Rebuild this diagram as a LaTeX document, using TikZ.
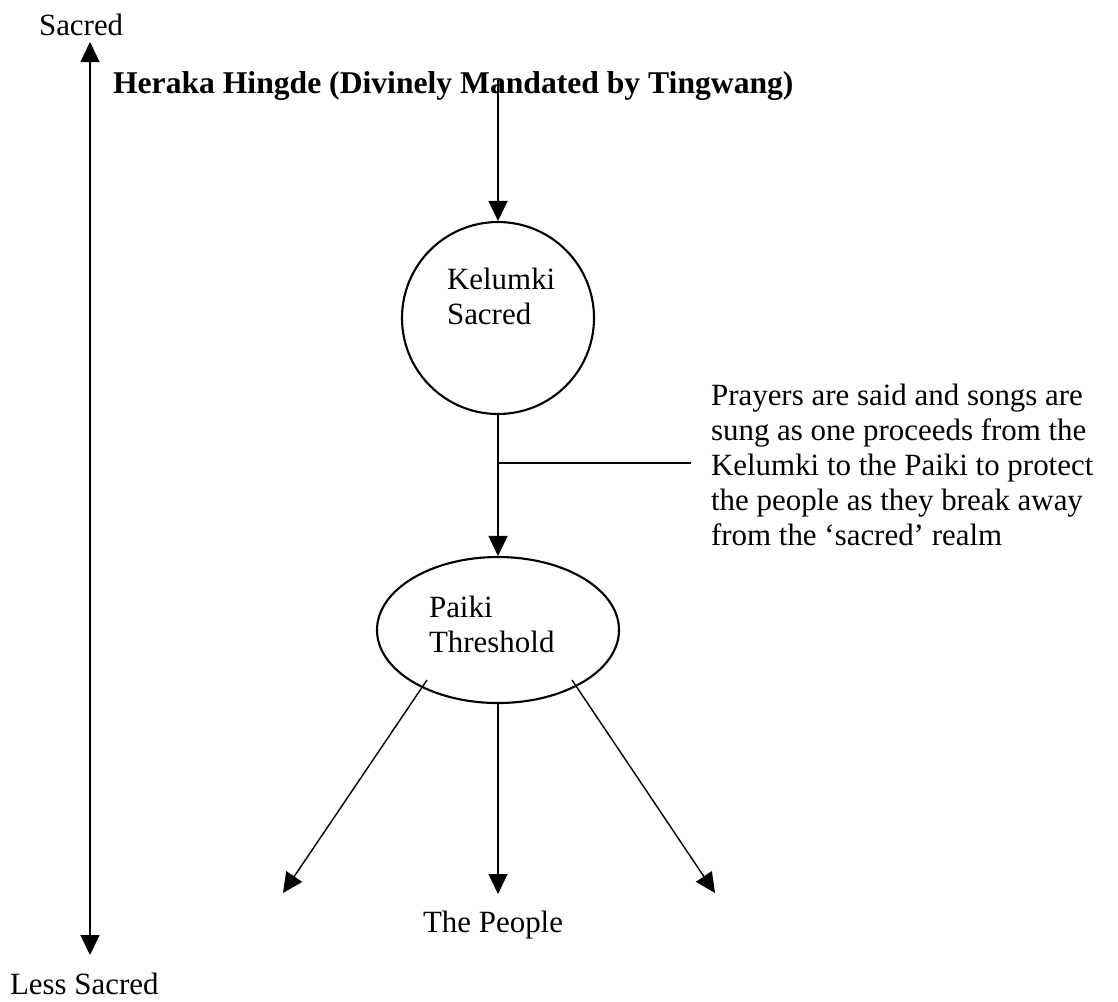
\documentclass[tikz,border=0pt]{standalone}
\usepackage{fontspec}
\setmainfont{Liberation Serif}
\usetikzlibrary{shapes.geometric,arrows.meta}
\pgfdeclarelayer{bg}
\pgfsetlayers{bg,main}
\tikzset{
    every node/.style={inner sep=0mm, font=\fontsize{8.8}{9.96}\selectfont}
}
\tikzset{word/.style={anchor=north west, align=left}}
\tikzset{ring/.style={circle, draw, minimum size=19.2mm}}
\tikzset{oval/.style={ellipse, draw, minimum width=24.2mm, minimum height=14.6mm}}

\begin{document}
\begin{tikzpicture}[line width=0.6pt, >={Triangle[length=2mm, width=1.9mm]}]
    \useasboundingbox (0cm, 0cm) rectangle (11.18cm, -10.01cm);

    \node (sacred) [word] at (0.38cm, -0.13cm) {Sacred};
    \node (less) [word] at (0.09cm, -9.72cm) {Less Sacred};
    \node (heraka) [word, font=\fontsize{9.0}{10}\selectfont\bfseries] at (1.12cm, -0.70cm) {Heraka Hingde (Divinely Mandated by Tingwang)};

    \node (kel) [ring] at (4.98cm, -3.18cm) {};
    \node (kelt) [word] at (4.46cm, -2.67cm) {Kelumki\\Sacred};
    \node (pai) [oval] at (4.98cm, -6.30cm) {};
    \node (pait) [word] at (4.28cm, -5.95cm) {Paiki\\Threshold};
    \node (people) [word] at (4.22cm, -9.10cm) {The People};
    \node (prayer) [word] at (7.10cm, -3.83cm) {Prayers are said and songs are\\sung as one proceeds from the\\Kelumki to the Paiki to protect\\the people as they break away\\from the `sacred' realm};

    \coordinate (top) at (0.90cm, -0.42cm);
    \coordinate (bot) at (0.90cm, -9.55cm);
    \coordinate (src) at (4.98cm, -0.80cm);
    \coordinate (jn) at (4.98cm, -4.63cm);
    \coordinate (jnend) at (6.91cm, -4.63cm);
    \coordinate (pl) at (4.27cm, -6.80cm);
    \coordinate (pr) at (5.72cm, -6.80cm);
    \coordinate (tl) at (2.83cm, -8.93cm);
    \coordinate (tm) at (4.98cm, -8.94cm);
    \coordinate (tr) at (7.15cm, -8.93cm);

    \begin{pgfonlayer}{bg}
        \draw (bot) edge[<->] (top);
        \draw (src) edge[->] (kel);
        \draw (kel) edge[->] (pai);
        \draw (jn) edge (jnend);
        \draw (pl) edge[->] (tl);
        \draw (pai.south) edge[->] (tm);
        \draw (pr) edge[->] (tr);
    \end{pgfonlayer}
\end{tikzpicture}
\end{document}
